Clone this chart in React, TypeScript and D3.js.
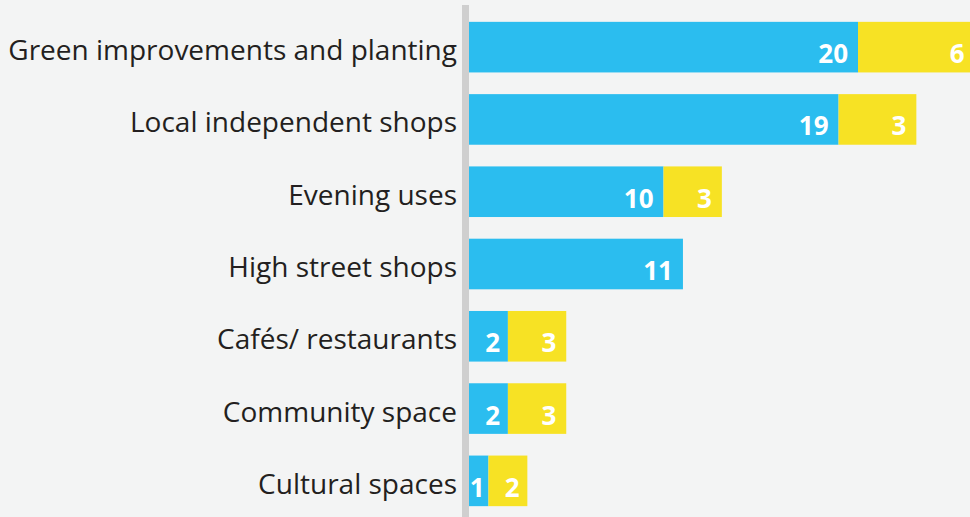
import React from "react";
import * as d3 from "d3";

const categories = [
  "Green improvements and planting",
  "Local independent shops",
  "Evening uses",
  "High street shops",
  "Cafés/ restaurants",
  "Community space",
  "Cultural spaces",
];
const blueValues = [20, 19, 10, 11, 2, 2, 1];
const yellowValues = [6, 4, 3, 0, 3, 3, 2];
const blueLabels = ["20", "19", "10", "11", "2", "2", "1"];
const yellowLabels = ["6", "3", "3", "", "3", "3", "2"];

const W = 970;
const H = 517;
const BG = "#f3f4f4";
const BLUE = "#2bbdef";
const YELLOW = "#f7e224";
const AXIS = "#cfcfcf";

export default function App() {
  const x0 = 469;
  const x = d3.scaleLinear().domain([0, 26]).range([x0, x0 + 26 * 19.45]);
  const y = d3
    .scaleBand<string>()
    .domain(categories)
    .range([11, 517])
    .paddingInner(0.3)
    .paddingOuter(0.15);
  const bh = y.bandwidth();
  const labelFont = "'Open Sans', sans-serif";

  const valueLabel = (txt: string, start: number, end: number, cy: number) => {
    const w = end - start;
    const off = Math.min(10, w * 0.2);
    return (
      <text
        x={end - off}
        y={cy + 16}
        textAnchor="end"
        fontFamily={labelFont}
        fontWeight={700}
        fontSize={26}
        fill="#ffffff"
      >
        {txt}
      </text>
    );
  };

  return (
    <div style={{ position: "fixed", left: 0, top: 0, width: W, height: H, background: BG }}>
      <svg width={W} height={H} style={{ display: "block" }}>
        <rect x={0} y={0} width={W} height={H} fill={BG} />
        <rect x={462} y={5} width={7} height={H - 5} fill={AXIS} />
        {categories.map((c, i) => {
          const yy = y(c)!;
          const cy = yy + bh / 2;
          const bEnd = x(blueValues[i]);
          const yEnd = x(blueValues[i] + yellowValues[i]);
          return (
            <g key={c}>
              <rect x={x(0)} y={yy} width={bEnd - x(0)} height={bh} fill={BLUE} />
              {yellowValues[i] > 0 && (
                <rect x={bEnd} y={yy} width={yEnd - bEnd} height={bh} fill={YELLOW} />
              )}
              <text
                x={457}
                y={cy + 13}
                textAnchor="end"
                fontFamily={labelFont}
                fontSize={28}
                fill="#231f20"
              >
                {c}
              </text>
              {valueLabel(blueLabels[i], x(0), bEnd, cy)}
              {yellowLabels[i] && valueLabel(yellowLabels[i], bEnd, yEnd, cy)}
            </g>
          );
        })}
      </svg>
    </div>
  );
}
